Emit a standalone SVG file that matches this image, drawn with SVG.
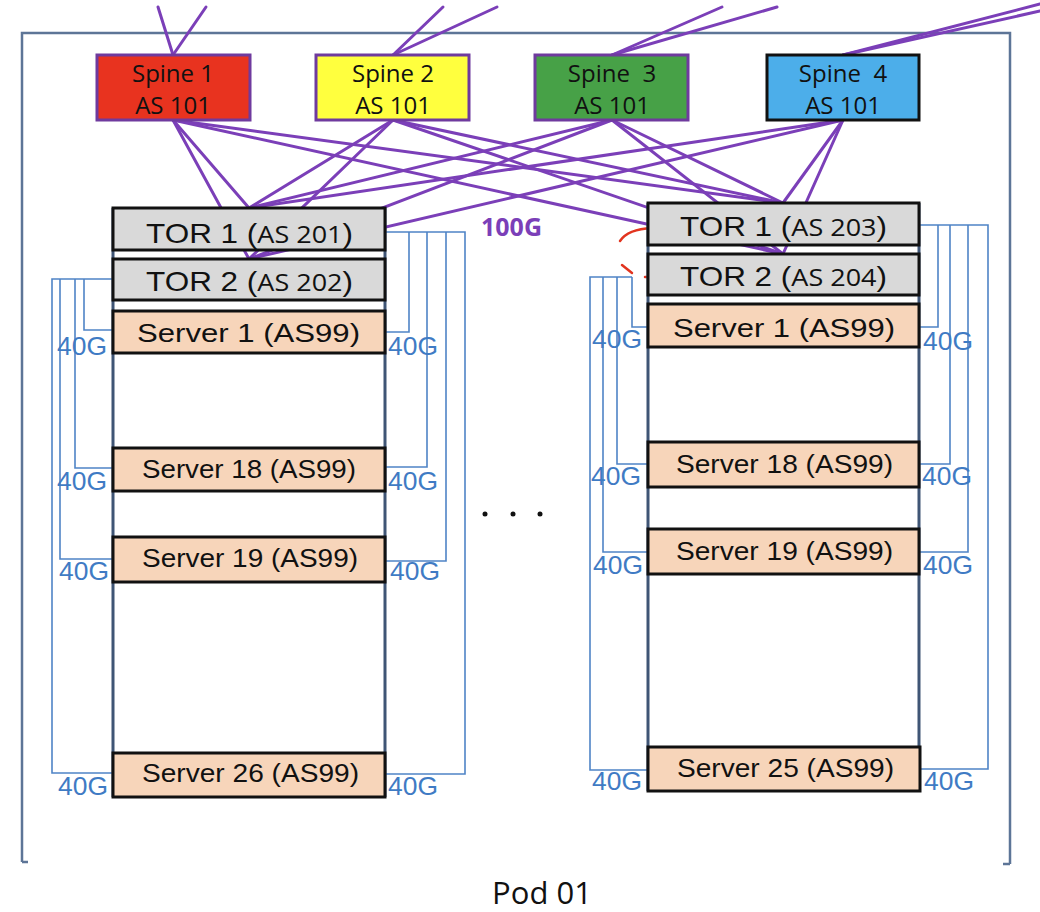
<svg xmlns="http://www.w3.org/2000/svg" width="1040" height="912" viewBox="0 0 1040 912">
  <style>
    .frame { fill: none; stroke: #5d7597; stroke-width: 2.5; }
    .link { fill: none; stroke: #7b3fb8; stroke-width: 3; stroke-linecap: round; }
    .bracket { fill: none; stroke: #4f84c6; stroke-width: 1.6; }
    .rackside { stroke: #3f5575; stroke-width: 3; }
    .mark { fill: none; stroke: #e2341f; stroke-width: 2.5; stroke-linecap: round; }
    .spine { stroke: #6f3a9e; stroke-width: 3; }
    .tor { fill: #d9d9d9; stroke: #111; stroke-width: 3; }
    .server { fill: #f7d5ba; stroke: #111; stroke-width: 3; }
    .stxt { font-family: "Open Sans", "Liberation Sans", sans-serif; font-size: 24px; fill: #111; text-anchor: middle; }
    .ttxt { font-family: "Liberation Sans", Arial, sans-serif; font-size: 28px; fill: #111; }
    .ttxt .as { font-family: "Open Sans", "Liberation Sans", sans-serif; font-size: 24px; }
    .vtxt { font-family: "Liberation Sans", Arial, sans-serif; font-size: 26px; fill: #111; }
    .gtxt { font-family: "Liberation Sans", Arial, sans-serif; font-size: 25px; fill: #3f7bc4; }
  </style>

  <!-- pod outline -->
  <path class="frame" d="M22,862 V33 H1010 V864 M22,862 H28 M1010,864 H1003"/>

  <!-- connectors: spine uplinks and spine-to-TOR links -->
  <g id="connectors">
    <g id="uplinks">
      <line class="link" x1="173" y1="55" x2="158" y2="7"/>
      <line class="link" x1="173" y1="55" x2="206" y2="7"/>
      <line class="link" x1="393" y1="55" x2="443" y2="7"/>
      <line class="link" x1="393" y1="55" x2="497" y2="7"/>
      <line class="link" x1="612" y1="55" x2="722" y2="7"/>
      <line class="link" x1="612" y1="55" x2="777" y2="7"/>
      <line class="link" x1="843" y1="55" x2="1040" y2="4"/>
      <line class="link" x1="843" y1="55" x2="1040" y2="11"/>
    </g>
    <g id="fabric">
      <!-- spine 1 -->
      <line class="link" x1="173" y1="120" x2="249" y2="208"/>
      <line class="link" x1="173" y1="120" x2="249" y2="259"/>
      <line class="link" x1="173" y1="120" x2="783" y2="203"/>
      <line class="link" x1="173" y1="120" x2="783" y2="254"/>
      <!-- spine 2 -->
      <line class="link" x1="393" y1="120" x2="249" y2="208"/>
      <line class="link" x1="393" y1="120" x2="249" y2="259"/>
      <line class="link" x1="393" y1="120" x2="783" y2="203"/>
      <line class="link" x1="393" y1="120" x2="783" y2="254"/>
      <!-- spine 3 -->
      <line class="link" x1="612" y1="120" x2="249" y2="208"/>
      <line class="link" x1="612" y1="120" x2="249" y2="259"/>
      <line class="link" x1="612" y1="120" x2="783" y2="203"/>
      <line class="link" x1="612" y1="120" x2="783" y2="254"/>
      <!-- spine 4 -->
      <line class="link" x1="843" y1="120" x2="249" y2="208"/>
      <line class="link" x1="843" y1="120" x2="249" y2="259"/>
      <line class="link" x1="843" y1="120" x2="783" y2="203"/>
      <line class="link" x1="843" y1="120" x2="783" y2="254"/>
    </g>

    <!-- server-to-TOR 40G links, left rack -->
    <g id="links-rack-a">
      <path class="bracket" d="M113,279 H52 V773 H113 M60,279 V559 H113 M75,279 V468 H113 M84,279 V330 H113"/>
      <path class="bracket" d="M386,232 H465 V774 H386 M446,232 V561 H386 M427,232 V467 H386 M409,232 V332 H386"/>
      <text class="gtxt" x="57" y="355" textLength="50" lengthAdjust="spacingAndGlyphs">40G</text>
      <text class="gtxt" x="57" y="490" textLength="50" lengthAdjust="spacingAndGlyphs">40G</text>
      <text class="gtxt" x="59" y="580" textLength="50" lengthAdjust="spacingAndGlyphs">40G</text>
      <text class="gtxt" x="58" y="795" textLength="50" lengthAdjust="spacingAndGlyphs">40G</text>
      <text class="gtxt" x="388" y="355" textLength="50" lengthAdjust="spacingAndGlyphs">40G</text>
      <text class="gtxt" x="388" y="490" textLength="50" lengthAdjust="spacingAndGlyphs">40G</text>
      <text class="gtxt" x="390" y="580" textLength="50" lengthAdjust="spacingAndGlyphs">40G</text>
      <text class="gtxt" x="388" y="795" textLength="50" lengthAdjust="spacingAndGlyphs">40G</text>
    </g>

    <!-- server-to-TOR 40G links, right rack -->
    <g id="links-rack-b">
      <path class="bracket" d="M632,277 H590 V770 H647 M603,277 V552 H647 M617,277 V464 H647 M632,277 V327 H647"/>
      <path class="bracket" d="M920,225 H988 V769 H920 M968,225 V552 H920 M950,225 V464 H920 M938,225 V327 H920"/>
      <text class="gtxt" x="592" y="348" textLength="50" lengthAdjust="spacingAndGlyphs">40G</text>
      <text class="gtxt" x="591" y="485" textLength="50" lengthAdjust="spacingAndGlyphs">40G</text>
      <text class="gtxt" x="593" y="574" textLength="50" lengthAdjust="spacingAndGlyphs">40G</text>
      <text class="gtxt" x="592" y="790" textLength="50" lengthAdjust="spacingAndGlyphs">40G</text>
      <text class="gtxt" x="923" y="350" textLength="50" lengthAdjust="spacingAndGlyphs">40G</text>
      <text class="gtxt" x="922" y="485" textLength="50" lengthAdjust="spacingAndGlyphs">40G</text>
      <text class="gtxt" x="923" y="574" textLength="50" lengthAdjust="spacingAndGlyphs">40G</text>
      <text class="gtxt" x="924" y="790" textLength="50" lengthAdjust="spacingAndGlyphs">40G</text>
    </g>

    <!-- hand-drawn red marks by the right rack TORs -->
    <g id="marks">
      <path class="mark" d="M620,241 Q628,229 652,228"/>
      <path class="mark" d="M622,265 L632,273"/>
      <path class="mark" d="M645,277 H652"/>
    </g>
  </g>

  <!-- spines -->
  <g id="spine-1">
    <rect class="spine" x="97" y="55" width="153" height="65" fill="#e8331f"/>
    <text class="stxt" x="173" y="82">Spine 1</text>
    <text class="stxt" x="173" y="114">AS 101</text>
  </g>
  <g id="spine-2">
    <rect class="spine" x="316" y="55" width="153" height="65" fill="#ffff3e"/>
    <text class="stxt" x="393" y="82">Spine 2</text>
    <text class="stxt" x="393" y="114">AS 101</text>
  </g>
  <g id="spine-3">
    <rect class="spine" x="535" y="55" width="153" height="65" fill="#47a147"/>
    <text class="stxt" x="612" y="82" xml:space="preserve">Spine  3</text>
    <text class="stxt" x="612" y="114">AS 101</text>
  </g>
  <g id="spine-4">
    <rect x="767" y="55" width="152" height="65" fill="#4caeea" stroke="#111" stroke-width="3"/>
    <text class="stxt" x="843" y="82" xml:space="preserve">Spine  4</text>
    <text class="stxt" x="843" y="114">AS 101</text>
  </g>

  <text id="uplink-speed" x="481" y="236" font-family="'Open Sans', 'Liberation Sans', sans-serif" font-size="25" font-weight="bold" fill="#7b3fb8">100G</text>

  <!-- rack A -->
  <g id="rack-a">
    <line class="rackside" x1="113" y1="208" x2="113" y2="797"/>
    <line class="rackside" x1="385" y1="208" x2="385" y2="797"/>
  </g>
  <g id="tor-201">
    <rect class="tor" x="113" y="208" width="272" height="42"/>
    <text class="ttxt" x="146" y="243" textLength="207" lengthAdjust="spacingAndGlyphs">TOR 1 (<tspan class="as">AS 201</tspan>)</text>
  </g>
  <g id="tor-202">
    <rect class="tor" x="113" y="259" width="272" height="41"/>
    <text class="ttxt" x="146" y="291" textLength="207" lengthAdjust="spacingAndGlyphs">TOR 2 (<tspan class="as">AS 202</tspan>)</text>
  </g>
  <g id="rack-a-server-1">
    <rect class="server" x="113" y="311" width="272" height="42"/>
    <text class="vtxt" x="137" y="342" textLength="223" lengthAdjust="spacingAndGlyphs">Server 1 (AS99)</text>
  </g>
  <g id="rack-a-server-18">
    <rect class="server" x="113" y="448" width="272" height="43"/>
    <text class="vtxt" x="142" y="478" textLength="214" lengthAdjust="spacingAndGlyphs">Server 18 (AS99)</text>
  </g>
  <g id="rack-a-server-19">
    <rect class="server" x="113" y="537" width="272" height="45"/>
    <text class="vtxt" x="142" y="567" textLength="216" lengthAdjust="spacingAndGlyphs">Server 19 (AS99)</text>
  </g>
  <g id="rack-a-server-26">
    <rect class="server" x="113" y="753" width="272" height="44"/>
    <text class="vtxt" x="142" y="782" textLength="217" lengthAdjust="spacingAndGlyphs">Server 26 (AS99)</text>
  </g>

  <!-- rack B -->
  <g id="rack-b">
    <line class="rackside" x1="648" y1="203" x2="648" y2="791"/>
    <line class="rackside" x1="919" y1="203" x2="919" y2="791"/>
  </g>
  <g id="tor-203">
    <rect class="tor" x="648" y="203" width="271" height="42"/>
    <text class="ttxt" x="680" y="236" textLength="207" lengthAdjust="spacingAndGlyphs">TOR 1 (<tspan class="as">AS 203</tspan>)</text>
  </g>
  <g id="tor-204">
    <rect class="tor" x="648" y="254" width="271" height="41"/>
    <text class="ttxt" x="680" y="286" textLength="207" lengthAdjust="spacingAndGlyphs">TOR 2 (<tspan class="as">AS 204</tspan>)</text>
  </g>
  <g id="rack-b-server-1">
    <rect class="server" x="648" y="304" width="271" height="43"/>
    <text class="vtxt" x="673" y="337" textLength="222" lengthAdjust="spacingAndGlyphs">Server 1 (AS99)</text>
  </g>
  <g id="rack-b-server-18">
    <rect class="server" x="648" y="442" width="271" height="45"/>
    <text class="vtxt" x="676" y="473" textLength="217" lengthAdjust="spacingAndGlyphs">Server 18 (AS99)</text>
  </g>
  <g id="rack-b-server-19">
    <rect class="server" x="648" y="529" width="271" height="45"/>
    <text class="vtxt" x="676" y="560" textLength="217" lengthAdjust="spacingAndGlyphs">Server 19 (AS99)</text>
  </g>
  <g id="rack-b-server-25">
    <rect class="server" x="648" y="747" width="272" height="44"/>
    <text class="vtxt" x="677" y="777" textLength="217" lengthAdjust="spacingAndGlyphs">Server 25 (AS99)</text>
  </g>

  <!-- more racks in between -->
  <g id="ellipsis" fill="#111">
    <circle cx="485" cy="514" r="2.5"/>
    <circle cx="513" cy="514" r="2.5"/>
    <circle cx="540" cy="514" r="2.5"/>
  </g>

  <text id="pod-label" x="542" y="904" text-anchor="middle" font-family="'Open Sans', 'Liberation Sans', sans-serif" font-size="31" fill="#111">Pod 01</text>
</svg>
